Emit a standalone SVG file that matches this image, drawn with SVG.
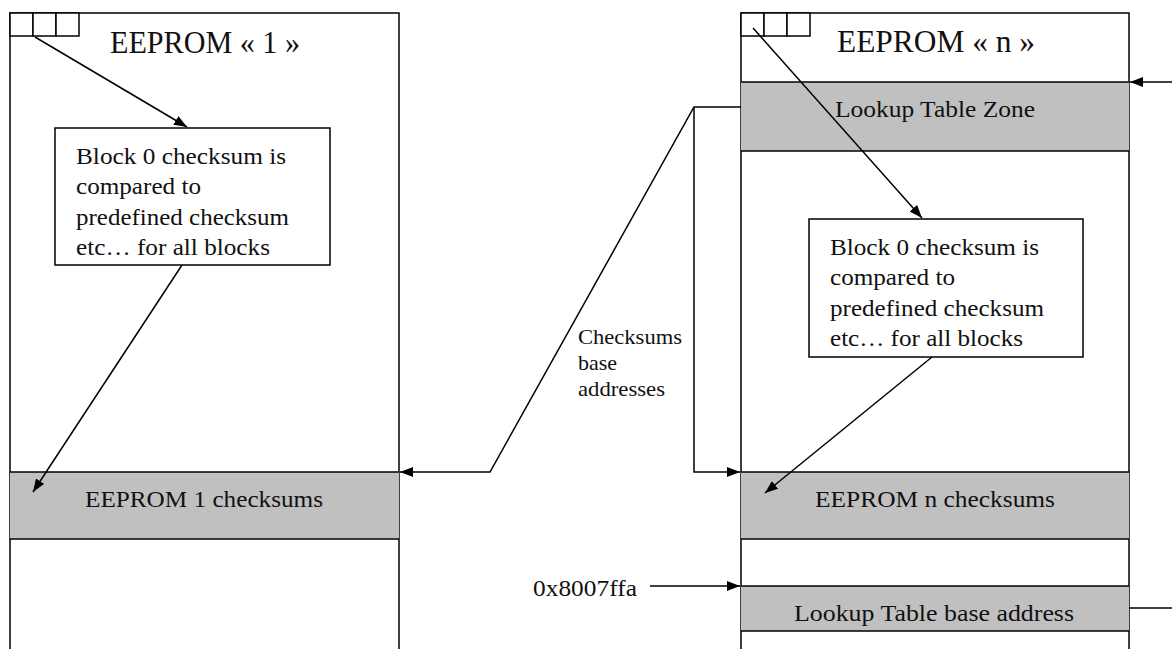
<svg xmlns="http://www.w3.org/2000/svg" width="1172" height="649" viewBox="0 0 1172 649">
<style>
.box{fill:#ffffff;stroke:#000;stroke-width:1.5}
.band{fill:#c0c0c0;stroke:none}
.sep{stroke:#000;stroke-width:1.5;fill:none}
.cell{fill:#ffffff;stroke:#000;stroke-width:1.5}
.t{font-family:"Liberation Serif","Times New Roman",serif;fill:#111}
.title{font-size:31px}
.body{font-size:23px}
.small{font-size:21px}
.conn{fill:none;stroke:#000;stroke-width:1.5}
</style>
<defs>
<marker id="ah" markerUnits="userSpaceOnUse" markerWidth="14" markerHeight="11" refX="13" refY="5" orient="auto">
<path d="M0,0 L13,5 L0,10 z" fill="#000"/>
</marker>
</defs>
<rect width="1172" height="649" fill="#fff"/>

<g id="eeprom1">
<rect class="box" x="10" y="13" width="389" height="660"/>
<rect class="cell" x="10" y="13" width="23" height="23"/>
<rect class="cell" x="33" y="13" width="23" height="23"/>
<rect class="cell" x="56" y="13" width="23" height="23"/>
<text class="t title" x="110" y="53" textLength="190" lengthAdjust="spacingAndGlyphs">EEPROM « 1 »</text>
</g>

<g id="eeprom1-checksums">
<rect class="band" x="10" y="472" width="389" height="67"/>
<line class="sep" x1="10" y1="472" x2="399" y2="472"/>
<line class="sep" x1="10" y1="539" x2="399" y2="539"/>
<text class="t body" x="85" y="507" textLength="238" lengthAdjust="spacingAndGlyphs">EEPROM 1 checksums</text>
</g>

<g id="block-left">
<rect class="box" x="55" y="128" width="275" height="137"/>
<text class="t body" x="76" y="164" textLength="210" lengthAdjust="spacingAndGlyphs">Block 0 checksum is</text>
<text class="t body" x="76" y="194" textLength="125" lengthAdjust="spacingAndGlyphs">compared to</text>
<text class="t body" x="76" y="225" textLength="213" lengthAdjust="spacingAndGlyphs">predefined checksum</text>
<text class="t body" x="76" y="255" textLength="194" lengthAdjust="spacingAndGlyphs">etc… for all blocks</text>
</g>

<g id="eepromN">
<rect class="box" x="741" y="13" width="388" height="660"/>
<rect class="cell" x="741" y="13" width="23" height="23"/>
<rect class="cell" x="764" y="13" width="23" height="23"/>
<rect class="cell" x="787" y="13" width="23" height="23"/>
<text class="t title" x="837" y="52" textLength="198" lengthAdjust="spacingAndGlyphs">EEPROM « n »</text>
</g>

<g id="lookup-zone">
<rect class="band" x="741" y="82" width="388" height="69"/>
<line class="sep" x1="741" y1="82" x2="1129" y2="82"/>
<line class="sep" x1="741" y1="151" x2="1129" y2="151"/>
<text class="t body" x="835" y="117" textLength="200" lengthAdjust="spacingAndGlyphs">Lookup Table Zone</text>
</g>

<g id="eepromN-checksums">
<rect class="band" x="741" y="472" width="388" height="67"/>
<line class="sep" x1="741" y1="472" x2="1129" y2="472"/>
<line class="sep" x1="741" y1="539" x2="1129" y2="539"/>
<text class="t body" x="815" y="507" textLength="240" lengthAdjust="spacingAndGlyphs">EEPROM n checksums</text>
</g>

<g id="lookup-base">
<rect class="band" x="741" y="586" width="388" height="45"/>
<line class="sep" x1="741" y1="586" x2="1129" y2="586"/>
<line class="sep" x1="741" y1="631" x2="1129" y2="631"/>
<text class="t body" x="794" y="621" textLength="280" lengthAdjust="spacingAndGlyphs">Lookup Table base address</text>
</g>

<g id="block-right">
<rect class="box" x="809" y="219" width="274" height="138"/>
<text class="t body" x="830" y="255" textLength="209" lengthAdjust="spacingAndGlyphs">Block 0 checksum is</text>
<text class="t body" x="830" y="285" textLength="125" lengthAdjust="spacingAndGlyphs">compared to</text>
<text class="t body" x="830" y="316" textLength="214" lengthAdjust="spacingAndGlyphs">predefined checksum</text>
<text class="t body" x="830" y="346" textLength="193" lengthAdjust="spacingAndGlyphs">etc… for all blocks</text>
</g>

<g id="labels">
<text class="t small" x="578" y="344" textLength="104" lengthAdjust="spacingAndGlyphs">Checksums</text>
<text class="t small" x="578" y="370" textLength="39" lengthAdjust="spacingAndGlyphs">base</text>
<text class="t small" x="578" y="396" textLength="87" lengthAdjust="spacingAndGlyphs">addresses</text>
<text class="t body" x="533" y="596" textLength="104" lengthAdjust="spacingAndGlyphs">0x8007ffa</text>
</g>

<g id="connectors">
<line class="conn" x1="35" y1="37" x2="187" y2="127" marker-end="url(#ah)"/>
<line class="conn" x1="182" y1="265" x2="33" y2="492" marker-end="url(#ah)"/>
<polyline class="conn" points="741,107 694,107 490,472 400,472" marker-end="url(#ah)"/>
<polyline class="conn" points="694,107 694,472 740,472" marker-end="url(#ah)"/>
<line class="conn" x1="753" y1="28" x2="922" y2="218" marker-end="url(#ah)"/>
<line class="conn" x1="932" y1="357" x2="765" y2="493" marker-end="url(#ah)"/>
<line class="conn" x1="650" y1="586" x2="740" y2="586" marker-end="url(#ah)"/>
<line class="conn" x1="1172" y1="82" x2="1130" y2="82" marker-end="url(#ah)"/>
<line class="conn" x1="1129" y1="608" x2="1172" y2="608"/>
</g>
</svg>
